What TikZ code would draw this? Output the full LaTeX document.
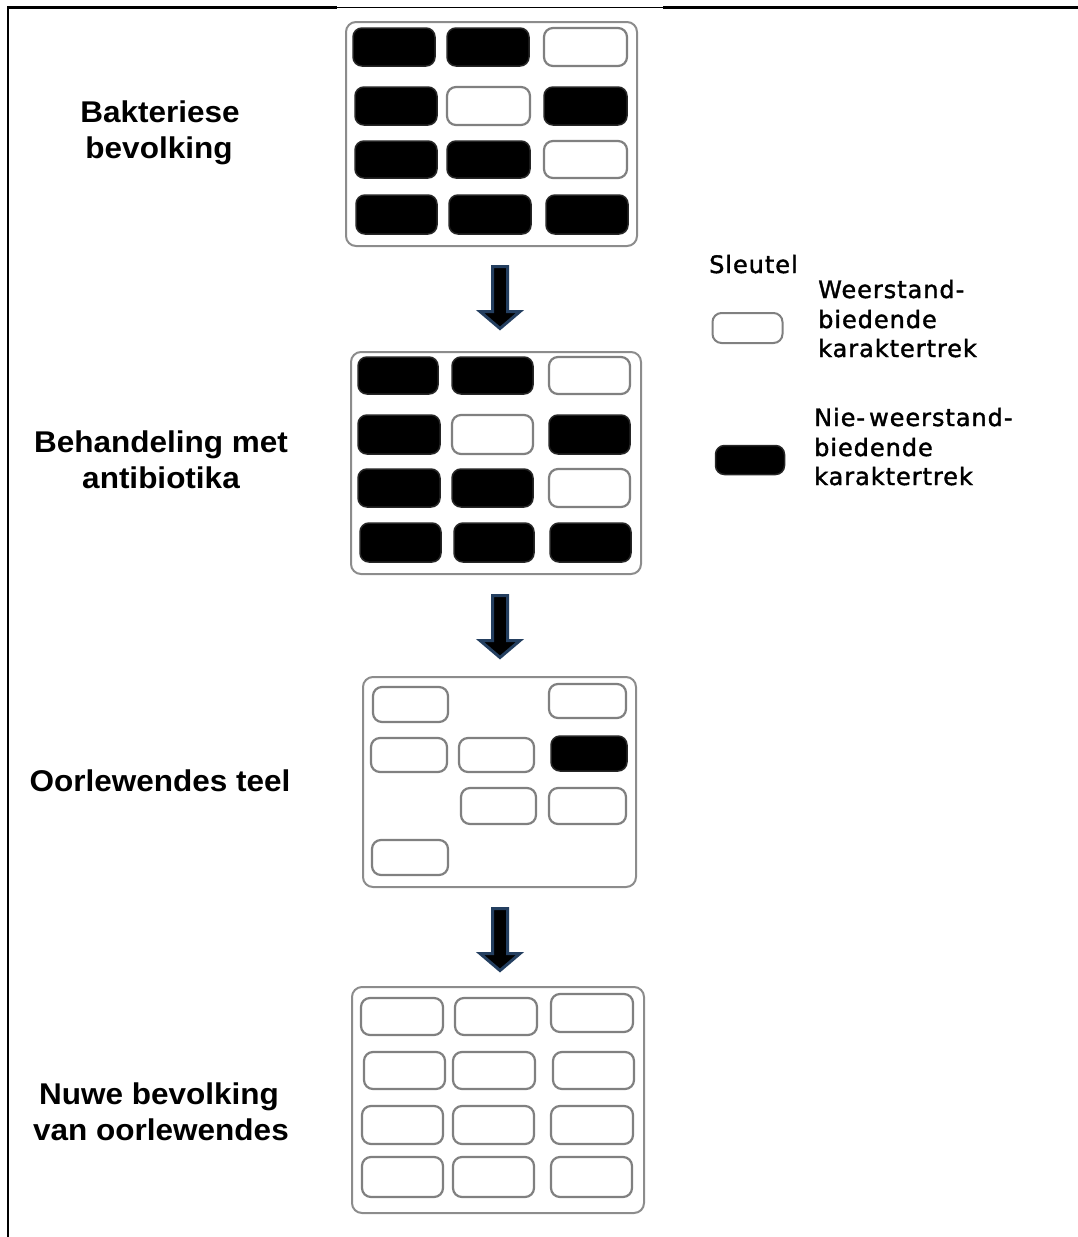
\documentclass[tikz,border=0pt]{standalone}
\usepackage{fontspec}
\setmainfont{Liberation Sans}
\newfontfamily\lblfont[FakeStretch=1.05]{Liberation Sans}
\newfontfamily\keyfont[LetterSpace=4, FakeBold=1.6]{DejaVu Sans}
\definecolor{cellgray}{RGB}{128,128,128}
\definecolor{panelgray}{RGB}{140,140,140}
\definecolor{arrowblue}{RGB}{36,63,96}

% one cell of a population panel, given by its corners (x1,y1) and (x2,y2)
\newcommand\mkcell[6]{%
  \node[#2, minimum width={(#5-#3)*1pt}, minimum height={(#6-#4)*1pt}]
    (#1) at ({(#3+#5)/2},{(#4+#6)/2}) {};}
% a population panel, given by its corners
\newcommand\mkpanel[5]{%
  \node[panel, minimum width={(#4-#2)*1pt}, minimum height={(#5-#3)*1pt}]
    (#1) at ({(#2+#4)/2},{(#3+#5)/2}) {};}

\tikzset{
  panel/.style={draw=panelgray, line width=2, rounded corners=10pt, fill=white, inner sep=0pt},
  cellw/.style={draw=cellgray, line width=2.2, rounded corners=9pt, fill=white, inner sep=0pt},
  cellb/.style={draw=black!85, line width=1.5, rounded corners=9pt, fill=black, inner sep=0pt},
  lbl/.style={font=\lblfont\bfseries\fontsize{30}{30}\selectfont, anchor=base, inner sep=0pt},
  keytxt/.style={font=\keyfont\fontsize{24}{24}\selectfont, anchor=base west, inner sep=0pt},
  downarrow/.pic={
    \draw[line width=3, draw=arrowblue, fill=black, miter limit=10]
      (-7.5,0) -- (7.5,0) -- (7.5,45) -- (20,45) -- (0,62) -- (-20,45) -- (-7.5,45) -- cycle;
  }
}

\begin{document}
\begin{tikzpicture}[x=1pt, y=-1pt]
\useasboundingbox (0,0) rectangle (1078,1237);

% page frame: left rule and top rule
\draw[line width=2.5] (8,1237) -- (8,7.5) -- (337,7.5);
\draw[line width=1] (337,7.5) -- (663,7.5);
\draw[line width=2.5] (663,7.5) -- (1078,7.5);

% ---- panel 1: bacterial population
\mkpanel{p1}{346}{22}{637}{246}
\mkcell{p1a}{cellb}{353}{28}{435}{66}
\mkcell{p1b}{cellb}{447}{28}{529}{66}
\mkcell{p1c}{cellw}{544}{28}{627}{66}
\mkcell{p1d}{cellb}{355}{87}{437}{125}
\mkcell{p1e}{cellw}{447}{87}{530}{125}
\mkcell{p1f}{cellb}{544}{87}{627}{125}
\mkcell{p1g}{cellb}{355}{141}{437}{178}
\mkcell{p1h}{cellb}{447}{141}{530}{178}
\mkcell{p1i}{cellw}{544}{141}{627}{178}
\mkcell{p1j}{cellb}{356}{195}{437}{234}
\mkcell{p1k}{cellb}{449}{195}{531}{234}
\mkcell{p1l}{cellb}{546}{195}{628}{234}

% ---- panel 2: treatment with antibiotics
\mkpanel{p2}{351}{352}{641}{574}
\mkcell{p2a}{cellb}{358}{357}{438}{394}
\mkcell{p2b}{cellb}{452}{357}{533}{394}
\mkcell{p2c}{cellw}{549}{357}{630}{394}
\mkcell{p2d}{cellb}{358}{415}{440}{454}
\mkcell{p2e}{cellw}{452}{415}{533}{454}
\mkcell{p2f}{cellb}{549}{415}{630}{454}
\mkcell{p2g}{cellb}{358}{469}{440}{507}
\mkcell{p2h}{cellb}{452}{469}{533}{507}
\mkcell{p2i}{cellw}{549}{469}{630}{507}
\mkcell{p2j}{cellb}{360}{523}{441}{562}
\mkcell{p2k}{cellb}{454}{523}{534}{562}
\mkcell{p2l}{cellb}{550}{523}{631}{562}

% ---- panel 3: survivors breed
\mkpanel{p3}{363}{677}{636}{887}
\mkcell{p3a}{cellw}{373}{687}{448}{722}
\mkcell{p3c}{cellw}{549}{684}{626}{718}
\mkcell{p3d}{cellw}{371}{738}{447}{772}
\mkcell{p3e}{cellw}{459}{738}{534}{772}
\mkcell{p3f}{cellb}{551}{736}{627}{771}
\mkcell{p3h}{cellw}{461}{788}{536}{824}
\mkcell{p3i}{cellw}{549}{788}{626}{824}
\mkcell{p3j}{cellw}{372}{840}{448}{875}

% ---- panel 4: new population of survivors
\mkpanel{p4}{352}{987}{644}{1213}
\mkcell{p4a}{cellw}{361}{998}{443}{1035}
\mkcell{p4b}{cellw}{455}{998}{537}{1035}
\mkcell{p4c}{cellw}{551}{994}{633}{1032}
\mkcell{p4d}{cellw}{364}{1052}{445}{1089}
\mkcell{p4e}{cellw}{453}{1052}{535}{1089}
\mkcell{p4f}{cellw}{553}{1052}{634}{1089}
\mkcell{p4g}{cellw}{362}{1106}{443}{1144}
\mkcell{p4h}{cellw}{453}{1106}{534}{1144}
\mkcell{p4i}{cellw}{551}{1106}{633}{1144}
\mkcell{p4j}{cellw}{362}{1157}{443}{1197}
\mkcell{p4k}{cellw}{453}{1157}{534}{1197}
\mkcell{p4l}{cellw}{551}{1157}{632}{1197}

% ---- block arrows between the panels
\pic (ar1) at (500,266.5) {downarrow};
\pic (ar2) at (500,595.5) {downarrow};
\pic (ar3) at (500,908.5) {downarrow};

% ---- stage labels
\node[lbl] (t1a) at (160,122) {Bakteriese};
\node[lbl] (t1b) at (159,158) {bevolking};
\node[lbl] (t2a) at (161,452) {Behandeling met};
\node[lbl] (t2b) at (161,488) {antibiotika};
\node[lbl] (t3)  at (160,791) {Oorlewendes teel};
\node[lbl] (t4a) at (159,1104) {Nuwe bevolking};
\node[lbl] (t4b) at (161,1140) {van oorlewendes};

% ---- key
\node[keytxt] (kt) at (709,273) {Sleutel};
\node[cellw, minimum width=70pt, minimum height=30pt, line width=2] (kw) at (747.5,328) {};
\node[keytxt] (kw1) at (818,298) {Weerstand-};
\node[keytxt] (kw2) at (818,328) {biedende};
\node[keytxt] (kw3) at (818,357) {karaktertrek};
\node[cellb, minimum width=69pt, minimum height=29pt] (kb) at (750,460) {};
\node[keytxt] (kb1) at (814,426) {Nie-\,weerstand-};
\node[keytxt] (kb2) at (814,456) {biedende};
\node[keytxt] (kb3) at (814,485) {karaktertrek};
\end{tikzpicture}
\end{document}
